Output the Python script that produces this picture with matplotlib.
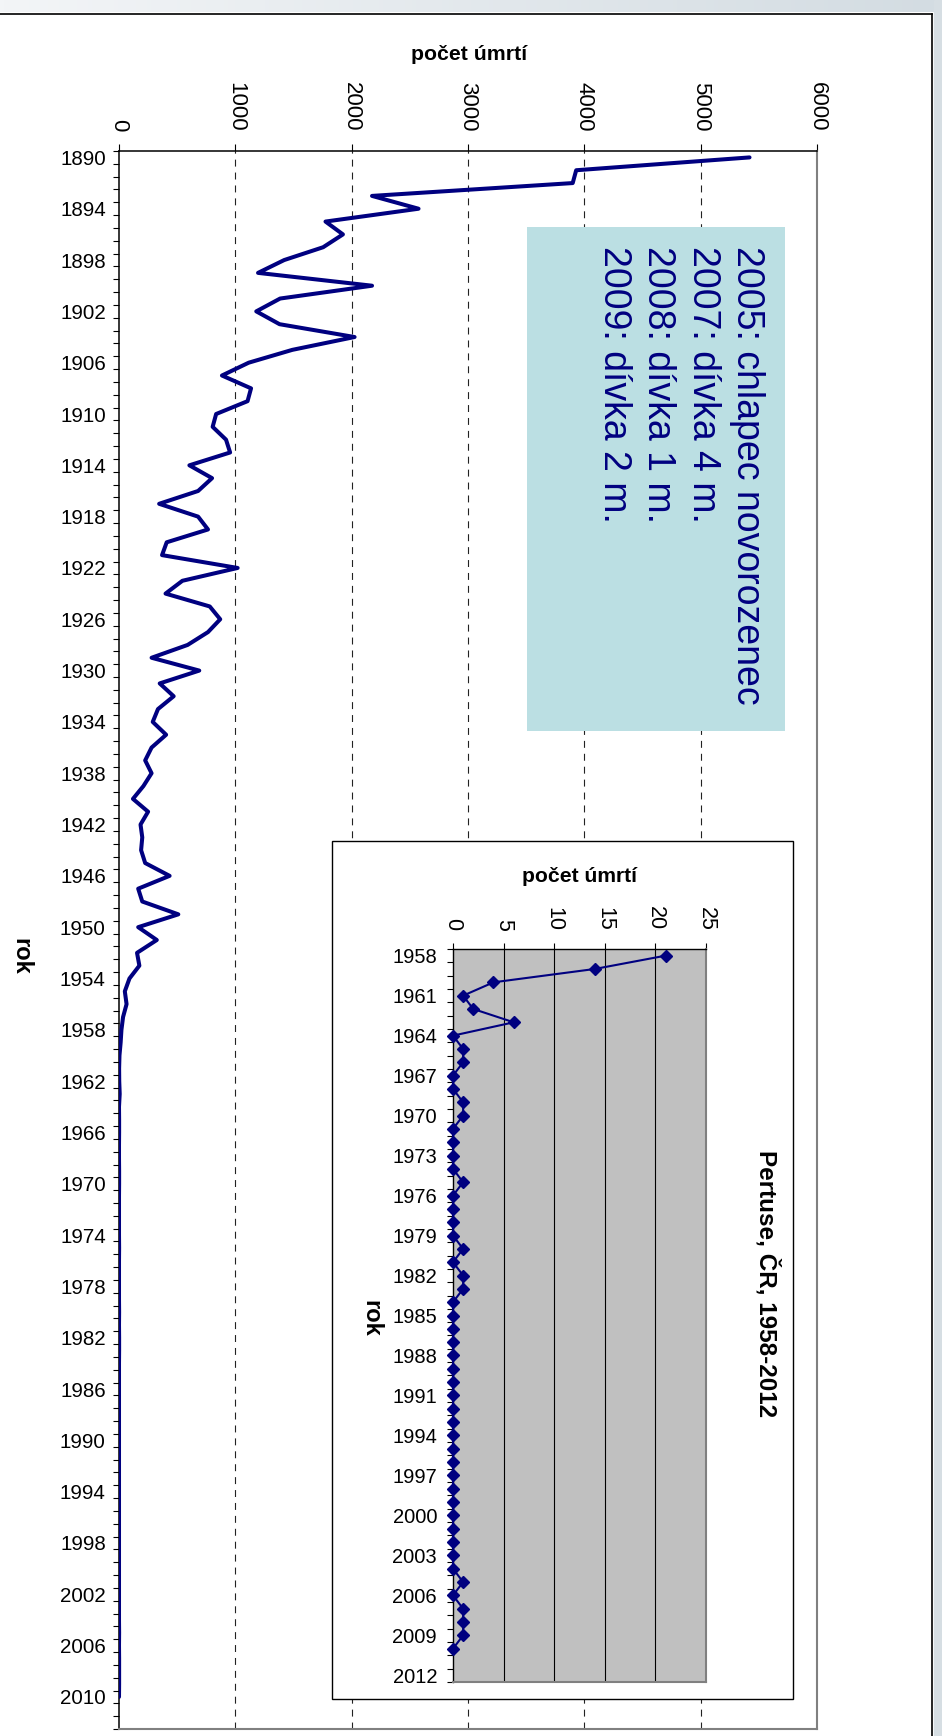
import matplotlib
matplotlib.use("Agg")
import matplotlib.pyplot as plt
from matplotlib.patches import Rectangle
from matplotlib.lines import Line2D
from matplotlib.ticker import FixedLocator, NullFormatter
import numpy as np

plt.rcParams['font.family'] = ['Liberation Sans', 'DejaVu Sans']
plt.rcParams['lines.scale_dashes'] = False

# ---- data -------------------------------------------------------------
years_main = list(range(1890, 2013))          # category axis of the main chart
deaths_1890_1957 = [
    5420, 3930, 3900, 2175, 2575, 1775, 1925, 1755, 1420, 1195,
    2175, 1385, 1180, 1380, 2025, 1490, 1115, 885, 1135, 1105,
    835, 805, 920, 955, 605, 800, 680, 345, 680, 765,
    410, 370, 1020, 545, 400, 780, 870, 765, 590, 280,
    690, 350, 470, 335, 290, 405, 280, 225, 280, 210,
    120, 250, 185, 200, 190, 225, 435, 165, 200, 510,
    165, 325, 155, 175, 90, 50, 65, 35,
]
years_inset = list(range(1958, 2013))         # category axis of the inset
deaths_1958_2010 = [
    21, 14, 4, 1, 2, 6, 0, 1, 1, 0,
    0, 1, 1, 0, 0, 0, 0, 1, 0, 0,
    0, 0, 1, 0, 1, 1, 0, 0, 0, 0,
    0, 0, 0, 0, 0, 0, 0, 0, 0, 0,
    0, 0, 0, 0, 0, 0, 0, 1, 0, 1,
    1, 1, 0,
]
deaths_main = deaths_1890_1957 + deaths_1958_2010
main_ticks = [0, 1000, 2000, 3000, 4000, 5000, 6000]
main_grid = [1000, 2000, 3000, 4000, 5000]
inset_ticks = [0, 5, 10, 15, 20, 25]
inset_grid = [5, 10, 15, 20]
notes = ["2005: chlapec novorozenec", "2007: dívka 4 m.",
         "2008: dívka 1 m.", "2009: dívka 2 m."]
value_label = "počet úmrtí"
year_label = "rok"
inset_title = "Pertuse, ČR, 1958-2012"

# ---- figure helpers (pixel layout, origin at top-left) ------------------
W, H = 942, 1736
fig = plt.figure(figsize=(W / 100, H / 100), dpi=100)
fig.patch.set_facecolor("white")


def fx(px):
    return px / W


def fy(py):
    return 1 - py / H


def box(x0, y0, x1, y1):
    return [fx(x0), fy(y1), fx(x1) - fx(x0), fy(y0) - fy(y1)]


NAVY = "#000080"
GRAY = "#808080"

# slide background bands around the chart area
band_top = fig.add_axes(box(0, 0, W, 12), zorder=-5)
band_top.imshow(np.linspace(0, 1, 256)[None, :], aspect="auto",
                cmap=matplotlib.colors.LinearSegmentedColormap.from_list(
                    "b", ["#f3f5f7", "#d3dce2"]), extent=(0, 1, 0, 1))
band_top.axis("off")
fig.patches.append(Rectangle((fx(934), 0), fx(W) - fx(934), 1,
                             transform=fig.transFigure, color="#d6dee3",
                             zorder=-4))
# chart-area frame (top and right edges)
fig.lines.append(Line2D([0, fx(932)], [fy(14), fy(14)], transform=fig.transFigure,
                        color="black", lw=1.2, zorder=3))
fig.lines.append(Line2D([fx(932), fx(932)], [fy(14), 0], transform=fig.transFigure,
                        color="black", lw=1.2, zorder=3))

# ---- main chart ---------------------------------------------------------
ax = fig.add_axes(box(119, 151, 817, 1729), zorder=0)
n_main = len(years_main)
pos_main = np.arange(len(deaths_main)) + 0.5
ax.plot(deaths_main, pos_main, color=NAVY, lw=2.9, solid_joinstyle="round",
        solid_capstyle="round", zorder=3)
ax.set_xlim(0, 6000)
ax.set_ylim(n_main, 0)
for g in main_grid:
    ax.axvline(g, color="#222222", lw=0.8, dashes=(5, 4.3), zorder=1)

ax.xaxis.tick_top()
ax.set_xticks(main_ticks)
ax.set_xticklabels([str(t) for t in main_ticks], rotation=-90)
ax.tick_params(axis="x", which="major", length=5, width=0.8, pad=9,
               labelsize=16, direction="out")

lab_idx = [i for i in range(n_main) if i % 4 == 0]
ax.yaxis.set_major_locator(FixedLocator([i + 0.5 for i in lab_idx]))
ax.set_yticklabels([str(years_main[i]) for i in lab_idx])
ax.yaxis.set_minor_locator(FixedLocator(list(range(n_main + 1))))
ax.yaxis.set_minor_formatter(NullFormatter())
ax.tick_params(axis="y", which="major", length=0, pad=9.5, labelsize=14.8)
ax.tick_params(axis="y", which="minor", length=4.3, width=0.8, direction="out")

for s in ("top", "left"):
    ax.spines[s].set_color("black")
    ax.spines[s].set_linewidth(1.1)
for s in ("right", "bottom"):
    ax.spines[s].set_color(GRAY)
    ax.spines[s].set_linewidth(1.5)

fig.text(fx(469), fy(54), value_label, ha="center", va="center",
         fontsize=15.3, fontweight="bold")
fig.text(fx(21), fy(956), year_label, ha="center", va="center",
         fontsize=17, fontweight="bold", rotation=-90)

# note box
fig.patches.append(Rectangle((fx(527), fy(731)), fx(785) - fx(527), fy(227) - fy(731),
                             transform=fig.transFigure, facecolor="#bbdfe3",
                             edgecolor="none", zorder=1))
for k, line in enumerate(notes):
    fig.text(fx(747 - 44.3 * k), fy(246), line, rotation=-90, ha="center",
             va="top", fontsize=27, color=NAVY, zorder=2)

# ---- inset chart --------------------------------------------------------
fig.patches.append(Rectangle((fx(332), fy(1699)), fx(793) - fx(332), fy(841) - fy(1699),
                             transform=fig.transFigure, facecolor="white",
                             edgecolor="black", lw=1.0, zorder=1))
ia = fig.add_axes(box(453, 949, 706, 1682), zorder=2)
ia.set_facecolor("#c0c0c0")
n_in = len(years_inset)
pos_in = np.arange(len(deaths_1958_2010)) + 0.5
ia.plot(deaths_1958_2010, pos_in, color=NAVY, lw=1.5, marker="D", ms=6.3,
        mec=NAVY, mfc=NAVY, zorder=3, clip_on=False)
ia.set_xlim(0, 25)
ia.set_ylim(n_in, 0)
for g in inset_grid:
    ia.axvline(g, color="black", lw=0.8, zorder=1)

ia.xaxis.tick_top()
ia.set_xticks(inset_ticks)
ia.set_xticklabels([str(t) for t in inset_ticks], rotation=-90)
ia.tick_params(axis="x", which="major", length=4.3, width=0.8, pad=9,
               labelsize=15.5, direction="out")
lab_in = [i for i in range(n_in) if i % 3 == 0]
ia.yaxis.set_major_locator(FixedLocator([i + 0.5 for i in lab_in]))
ia.set_yticklabels([str(years_inset[i]) for i in lab_in])
ia.yaxis.set_minor_locator(FixedLocator(list(range(n_in + 1))))
ia.yaxis.set_minor_formatter(NullFormatter())
ia.tick_params(axis="y", which="major", length=0, pad=11.5, labelsize=14.5)
ia.tick_params(axis="y", which="minor", length=4.3, width=0.8, direction="out")
for s in ("top", "left"):
    ia.spines[s].set_color("black")
    ia.spines[s].set_linewidth(1.0)
for s in ("right", "bottom"):
    ia.spines[s].set_color(GRAY)
    ia.spines[s].set_linewidth(1.5)

fig.text(fx(580), fy(876), value_label, ha="center", va="center",
         fontsize=15.2, fontweight="bold", zorder=3)
fig.text(fx(371), fy(1318), year_label, ha="center", va="center",
         fontsize=17, fontweight="bold", rotation=-90, zorder=3)
fig.text(fx(767), fy(1284), inset_title, ha="center", va="center",
         fontsize=17.5, fontweight="bold", rotation=-90, zorder=3)

fig.savefig("out.png", dpi=100)
